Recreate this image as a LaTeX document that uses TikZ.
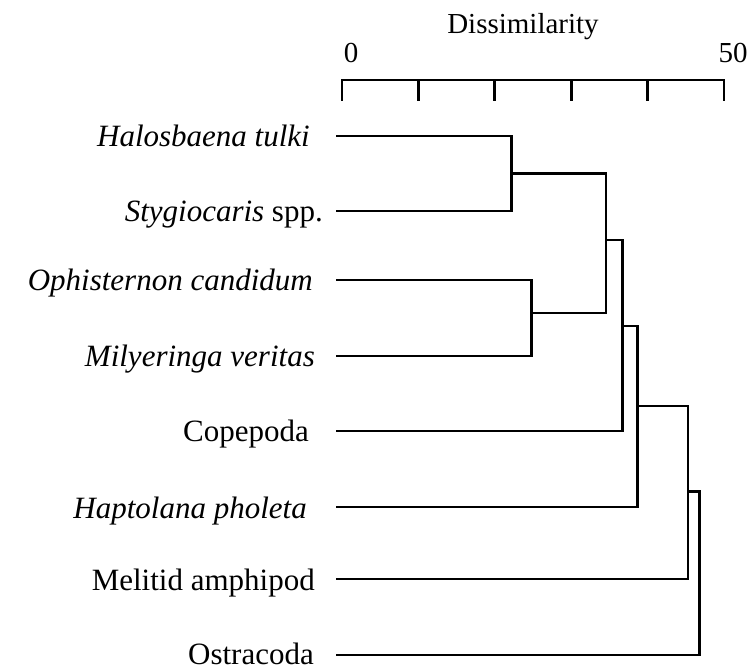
\documentclass[tikz,border=0pt]{standalone}
\usepackage{fontspec}
\setmainfont{Liberation Serif}
\begin{document}
\begin{tikzpicture}[x=1pt,y=-1pt,
  branch/.style={line width=2.8pt,line join=miter,line cap=butt},
  leaflabel/.style={anchor=base east,inner sep=0pt,font=\fontsize{31}{36}\selectfont},
  axislabel/.style={anchor=center,inner sep=0pt,font=\fontsize{29}{34}\selectfont}]
\useasboundingbox (0,0) rectangle (748,671);
% axis
\node[axislabel] (title) at (523,27) {Dissimilarity};
\node[axislabel] (zero) at (351,53) {0};
\node[axislabel] (fifty) at (733,53) {50};
\coordinate (ax0) at (342,80);
\coordinate (ax5) at (724,80);
\draw[branch] (342,101) -- (ax0) -- (ax5) -- (724,101);
\foreach \x in {418.4,494.8,571.2,647.6} \draw[branch] (\x,80) -- (\x,101);
% leaves
\coordinate (L1) at (336,136);
\coordinate (L2) at (336,211);
\coordinate (L3) at (336,280);
\coordinate (L4) at (336,356);
\coordinate (L5) at (336,431);
\coordinate (L6) at (336,507);
\coordinate (L7) at (336,579);
\coordinate (L8) at (336,655);
% labels
\node[leaflabel] (t1) at (310,147) {\itshape Halosbaena tulki};
\node[leaflabel] (t2) at (323,222) {\itshape Stygiocaris\/\upshape\ spp.};
\node[leaflabel] (t3) at (313,291) {\itshape Ophisternon candidum};
\node[leaflabel] (t4) at (315,367) {\itshape Milyeringa veritas};
\node[leaflabel] (t5) at (309,442) {Copepoda};
\node[leaflabel] (t6) at (307,518) {\itshape Haptolana pholeta};
\node[leaflabel] (t7) at (315,590) {Melitid amphipod};
\node[leaflabel] (t8) at (314,664) {Ostracoda};
% merges
\coordinate (A) at (511.7,173.3);
\coordinate (B) at (531.7,313);
\coordinate (C) at (606,240);
\coordinate (D) at (622.3,326);
\coordinate (E) at (637.5,406);
\coordinate (F) at (688,491.7);
\coordinate (G) at (699.3,573);
\draw[branch] (L1) -| (A) |- (L2);
\draw[branch] (L3) -| (B) |- (L4);
\draw[branch] (A) -| (C) |- (B);
\draw[branch] (C) -| (D) |- (L5);
\draw[branch] (D) -| (E) |- (L6);
\draw[branch] (E) -| (F) |- (L7);
\draw[branch] (F) -| (G) |- (L8);
\end{tikzpicture}
\end{document}
